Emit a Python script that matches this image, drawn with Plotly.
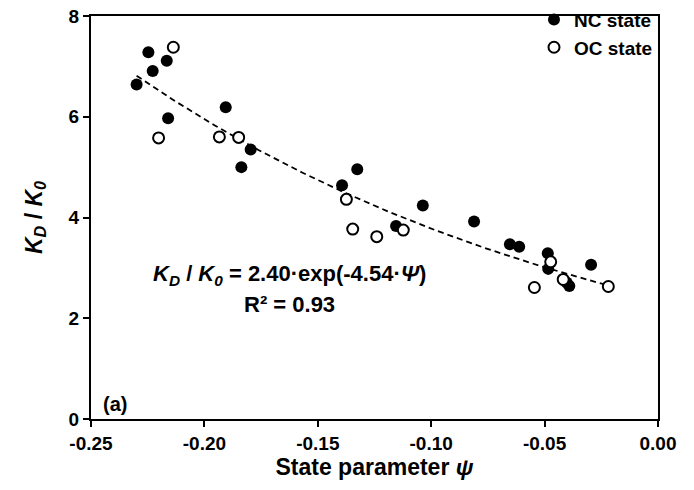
import numpy as np
import plotly.graph_objects as go

# NC state (filled)
nc_psi = [-0.2299, -0.2247, -0.2228, -0.2166, -0.2160, -0.1906, -0.1837, -0.1796,
          -0.1393, -0.1326, -0.1155, -0.1037, -0.0811, -0.0653, -0.0612, -0.0486,
          -0.0484, -0.0403, -0.0391, -0.0295]
nc_ratio = [6.64, 7.28, 6.91, 7.11, 5.97, 6.19, 5.00, 5.35,
            4.64, 4.96, 3.83, 4.24, 3.92, 3.47, 3.42, 3.29,
            2.98, 2.71, 2.64, 3.06]

# OC state (open)
oc_psi = [-0.2202, -0.2137, -0.1934, -0.1849, -0.1374, -0.1346, -0.1240, -0.1123,
          -0.0545, -0.0473, -0.0418, -0.0219]
oc_ratio = [5.58, 7.38, 5.60, 5.59, 4.36, 3.77, 3.62, 3.75,
            2.61, 3.12, 2.77, 2.63]

# Exponential fit shown on chart
fit_a = 2.40
fit_b = -4.54

x_ticks = [-0.25, -0.20, -0.15, -0.10, -0.05, 0.00]
x_ticktext = ["-0.25", "-0.20", "-0.15", "-0.10", "-0.05", "0.00"]
y_ticks = [0, 2, 4, 6, 8]

FONT = "Arial, Liberation Sans, sans-serif"
TS = 19

all_x = nc_psi + oc_psi
fx = np.linspace(min(all_x), max(all_x), 200)
fy = fit_a * np.exp(fit_b * fx)

fig = go.Figure()
fig.add_trace(go.Scatter(x=fx, y=fy, mode="lines",
                         line=dict(color="black", width=1.8, dash="6px,4px"),
                         showlegend=False, hoverinfo="skip"))
fig.add_trace(go.Scatter(x=nc_psi, y=nc_ratio, mode="markers", name="<b>NC state</b>",
                         marker=dict(symbol="circle", size=12, color="black",
                                     line=dict(color="black", width=0))))
fig.add_trace(go.Scatter(x=oc_psi, y=oc_ratio, mode="markers", name="<b>OC state</b>",
                         marker=dict(symbol="circle", size=11, color="white",
                                     line=dict(color="black", width=2))))

axis_common = dict(showline=True, linecolor="black", linewidth=2, mirror=True,
                   ticks="outside", ticklen=6, tickwidth=2, tickcolor="black",
                   showgrid=False, zeroline=False, ticklabeloverflow="allow",
                   tickfont=dict(family=FONT, size=TS, color="black", weight="bold"))

fig.update_xaxes(range=[-0.25, 0.0], tickvals=x_ticks, ticktext=x_ticktext,
                 title=dict(text="<b>State parameter <i>ψ</i></b>",
                            font=dict(family=FONT, size=23, color="black"), standoff=3),
                 **axis_common)
fig.update_yaxes(range=[0, 8], tickvals=y_ticks,
                 title=dict(text="<b><i>K<sub>D</sub></i> / <i>K<sub>0</sub></i></b>",
                            font=dict(family=FONT, size=23, color="black"), standoff=20),
                 **axis_common)

fig.add_annotation(x=-0.1623, y=2.86, xref="x", yref="y", showarrow=False,
                   text="<b><i>K<sub>D</sub></i> / <i>K<sub>0</sub></i> = 2.40·exp(-4.54·<i>Ψ</i>)</b>",
                   font=dict(family=FONT, size=22, color="black"))
fig.add_annotation(x=-0.1623, y=2.28, xref="x", yref="y", showarrow=False,
                   text="<b>R² = 0.93</b>",
                   font=dict(family=FONT, size=22, color="black"))
fig.add_annotation(x=0.018, y=0.005, xref="paper", yref="paper", showarrow=False,
                   xanchor="left", yanchor="bottom",
                   text="<b>(a)</b>", font=dict(family=FONT, size=20, color="black"))

fig.update_layout(
    width=694, height=490,
    margin=dict(l=91, r=36, t=16, b=71, autoexpand=False),
    plot_bgcolor="white", paper_bgcolor="white",
    font=dict(family=FONT, color="black"),
    legend=dict(x=1.0, y=1.038, xanchor="right", yanchor="top",
                bgcolor="rgba(0,0,0,0)", font=dict(family=FONT, size=TS, color="black"),
                itemwidth=30, tracegroupgap=0),
)

# remove the default page margin so the 694x490 figure fills the window exactly
fig.write_html("out.html", config={"displayModeBar": False},
               post_script="document.body.style.margin='0';")
